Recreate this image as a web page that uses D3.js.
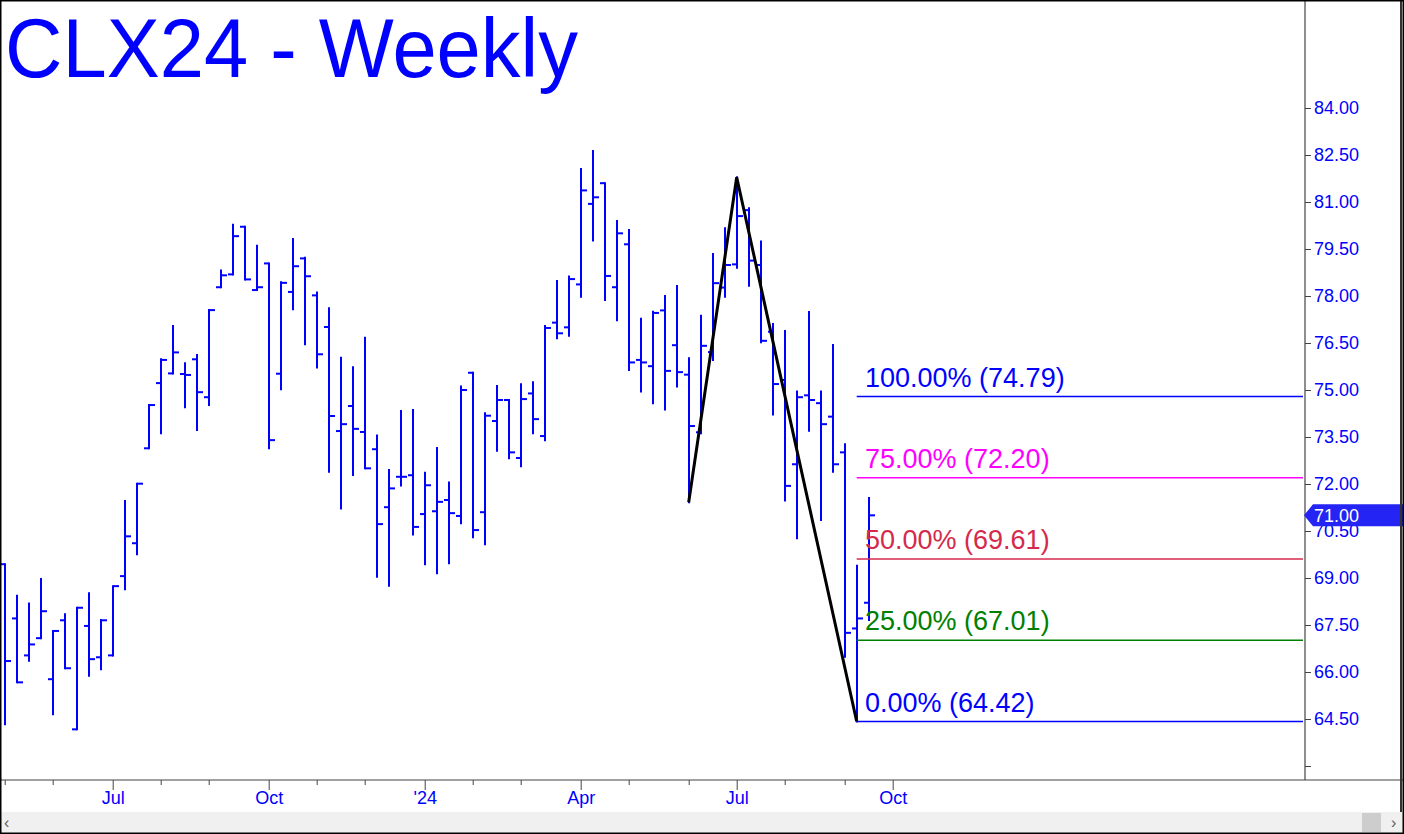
<!doctype html>
<html lang="en">
<head>
  <meta charset="utf-8">
  <style>
    body { margin: 0; background: #fff; }
    svg { display: block; font-family: "Liberation Sans", Arial, sans-serif; }
  </style>
</head>
<body>
  <script src="https://d3js.org/d3.v7.min.js"></script>
  <div id="chart"></div>
  <script>
    // Weekly OHLC, one entry per week (index 0 = first week on screen)
    var opens  = [69.44,67.71,66.53,67.08,65.77,67.65,64.17,67.47,66.47,66.53,69.06,70.11,73.14,75.22,75.53,75.51,75.98,74.77,78.28,78.69,80.21,78.19,79.04,75.52,78.13,79.20,78.02,77.01,73.69,74.49,73.66,73.11,71.26,72.23,72.28,71.04,71.13,71.49,70.98,75.55,71.10,74.01,74.68,72.83,74.89,73.53,77.15,77.00,78.37,80.94,81.60,78.28,79.65,75.96,75.76,77.54,76.43,75.49,73.65,76.21,78.27,79.01,80.74,78.99,76.86,75.32,72.63,74.83,74.58,74.15,73.01,67.39,68.21];
    var highs  = [69.44,68.43,68.19,68.97,67.31,67.84,68.05,68.51,67.66,68.74,71.46,72.01,74.52,75.98,77.04,75.85,76.12,77.55,78.81,80.27,80.21,79.60,79.04,78.44,79.82,79.22,78.11,77.61,76.03,75.73,76.67,73.55,72.45,74.33,74.36,72.36,73.15,72.05,75.11,75.55,74.26,75.13,74.68,75.18,75.25,77.04,78.48,78.62,82.05,82.63,81.60,80.39,80.11,77.27,77.50,78.00,78.32,76.01,77.37,79.34,80.16,81.79,80.80,79.74,77.11,76.88,74.95,77.49,74.95,76.44,73.27,69.39,71.55];
    var lows   = [64.33,65.67,66.36,67.08,64.65,66.12,64.17,65.88,66.09,66.53,68.64,69.76,73.14,73.62,75.53,74.45,73.72,74.52,78.28,78.69,78.53,78.19,73.14,75.02,77.58,76.46,75.72,72.39,71.22,72.29,72.50,69.04,68.75,71.95,70.39,69.44,69.15,69.47,70.75,70.30,70.08,73.06,72.82,72.57,73.62,73.40,76.65,76.73,77.98,79.77,77.87,77.23,75.64,74.95,74.58,74.38,75.11,71.42,73.62,75.96,77.98,78.90,78.33,76.52,74.22,71.47,70.27,73.70,70.85,72.39,66.49,64.42,67.66];
    var closes = [66.35,65.67,66.88,67.94,67.31,66.12,68.05,66.41,67.65,68.74,70.33,72.01,74.52,75.96,76.20,75.48,74.93,77.55,78.66,79.91,78.53,78.28,73.40,78.42,78.95,78.63,76.14,74.17,73.91,73.76,72.50,70.72,71.86,72.23,70.63,71.96,71.43,71.07,75.00,70.53,74.18,74.68,73.01,74.71,74.07,76.98,76.81,78.54,81.37,81.15,78.64,80.00,75.88,75.88,77.46,75.61,75.57,73.85,76.41,78.41,78.99,80.55,79.13,76.57,75.19,71.94,74.77,74.68,73.91,72.63,67.25,67.71,71.00];

    // month boundaries (week index) and quarter labels
    var monthWeeks = [0,4,9,13,17,22,26,30,35,39,43,48,52,57,61,65,70,74];
    var quarterWeeks = [9,22,35,48,61,74];
    var quarterLabels = ["Jul","Oct","'24","Apr","Jul","Oct"];

    // price axis ticks
    var priceTicks = [63,64.5,66,67.5,69,70.5,72,73.5,75,76.5,78,79.5,81,82.5,84];

    // swing points for the projection (week index, price)
    var swing = [[57,71.42],[61,81.79],[71,64.42]];
    var fibPcts = [0,0.25,0.5,0.75,1];
    var fibColors = ["#0000ff","#008000","#d42a4c","#ff00ff","#0000ff"];
    var lastPrice = 71.00;

    var width = 1404, height = 834;
    var plotRight = 1305, plotBottom = 780;
    var blue = "#0000ff";

    var svg = d3.select("#chart").append("svg")
      .attr("width", width).attr("height", height);

    var x = d3.scaleLinear().domain([0, 108]).range([4.7, 4.7 + 12 * 108]);
    var y = d3.scaleLinear().domain([64.5, 84]).range([719, 108]);

    svg.append("defs").append("clipPath").attr("id", "plotclip")
      .append("rect").attr("x", 0).attr("y", 0).attr("width", plotRight).attr("height", plotBottom);

    var plot = svg.append("g").attr("clip-path", "url(#plotclip)");

    // title
    svg.append("text")
      .attr("x", 5).attr("y", 77)
      .attr("font-size", 84)
      .attr("textLength", 573).attr("lengthAdjust", "spacingAndGlyphs")
      .attr("fill", blue)
      .text("CLX24 - Weekly");

    // OHLC bars
    var bars = plot.append("g").attr("stroke", blue).attr("stroke-width", 2);
    opens.forEach(function(o, i) {
      var cx = Math.round(x(i));
      bars.append("line").attr("x1", cx).attr("x2", cx)
        .attr("y1", y(highs[i]) - 1).attr("y2", y(lows[i]) + 1);
      bars.append("line").attr("x1", cx - 5).attr("x2", cx)
        .attr("y1", y(o)).attr("y2", y(o));
      bars.append("line").attr("x1", cx).attr("x2", cx + 6)
        .attr("y1", y(closes[i])).attr("y2", y(closes[i]));
    });

    // fib projection lines
    var range = swing[1][1] - swing[0][1];
    var fib = plot.append("g");
    fibPcts.forEach(function(p, j) {
      var val = swing[2][1] + p * range;
      var yy = y(val);
      fib.append("line")
        .attr("x1", x(swing[2][0])).attr("x2", plotRight - 2)
        .attr("y1", yy).attr("y2", yy)
        .attr("stroke", fibColors[j]).attr("stroke-width", 1.5);
      fib.append("text")
        .attr("x", 865).attr("y", yy - 10)
        .attr("font-size", 27)
        .attr("fill", fibColors[j])
        .text((p * 100).toFixed(2) + "% (" + val.toFixed(2) + ")");
    });

    // swing line
    var swingLine = d3.line().x(function(d) { return x(d[0]); }).y(function(d) { return y(d[1]); });
    plot.append("path").datum(swing)
      .attr("d", swingLine)
      .attr("fill", "none").attr("stroke", "#000").attr("stroke-width", 3)
      .attr("stroke-linejoin", "miter");

    // right price axis
    var yAxis = d3.axisRight(y).tickValues(priceTicks).tickSize(6).tickPadding(3)
      .tickFormat(function(d) { return d < 64 ? "" : d.toFixed(2); });
    var ya = svg.append("g").attr("transform", "translate(" + plotRight + ",0)").call(yAxis);
    ya.select(".domain").remove();
    ya.selectAll("line").attr("stroke", "#444");
    ya.selectAll("text").attr("fill", blue).attr("font-size", 18)
      .attr("font-family", "'Liberation Sans', Arial, sans-serif");
    svg.append("line").attr("x1", plotRight).attr("x2", plotRight)
      .attr("y1", 0).attr("y2", plotBottom).attr("stroke", "#444").attr("stroke-width", 1.2);

    // last price tag
    var ly = y(lastPrice);
    svg.append("polygon")
      .attr("points", [[1304, ly], [1313, ly - 11], [1404, ly - 11], [1404, ly + 11], [1313, ly + 11]].join(" "))
      .attr("fill", "#2424f5");
    svg.append("text").attr("x", 1314).attr("y", ly + 7)
      .attr("font-size", 18).attr("fill", "#fff").text(lastPrice.toFixed(2));

    // bottom time axis
    var xAxis = d3.axisBottom(x).tickValues(monthWeeks).tickSize(5)
      .tickFormat(function(d) {
        var q = quarterWeeks.indexOf(d);
        return q < 0 ? "" : quarterLabels[q];
      });
    var xa = svg.append("g").attr("transform", "translate(0," + plotBottom + ")").call(xAxis);
    xa.select(".domain").remove();
    xa.selectAll(".tick line").attr("stroke", "#444")
      .attr("y2", function(d) { return quarterWeeks.indexOf(d) < 0 ? 5 : 10; });
    xa.selectAll("text").attr("fill", blue).attr("font-size", 18).attr("dy", "0.9em")
      .attr("font-family", "'Liberation Sans', Arial, sans-serif");
    svg.append("line").attr("x1", 0).attr("x2", width)
      .attr("y1", plotBottom).attr("y2", plotBottom).attr("stroke", "#444").attr("stroke-width", 1.2);

    // scrollbar
    svg.append("rect").attr("x", 0).attr("y", 812).attr("width", width).attr("height", 21).attr("fill", "#f0f0f0");
    svg.append("rect").attr("x", 1362).attr("y", 813).attr("width", 19).attr("height", 19).attr("fill", "#cdcdcd");
    svg.append("text").attr("x", 4).attr("y", 828).attr("font-size", 16).attr("fill", "#606060").text("‹");
    svg.append("text").attr("x", 1391).attr("y", 828).attr("font-size", 16).attr("fill", "#606060").text("›");

    // frame
    svg.append("line").attr("x1", 1401).attr("x2", 1401).attr("y1", 0).attr("y2", 812).attr("stroke", "#333").attr("stroke-width", 2);
    svg.append("rect").attr("x", 0.75).attr("y", 0.75).attr("width", width - 1.5).attr("height", height - 1.5)
      .attr("fill", "none").attr("stroke", "#000").attr("stroke-width", 1.5);
  </script>
</body>
</html>
